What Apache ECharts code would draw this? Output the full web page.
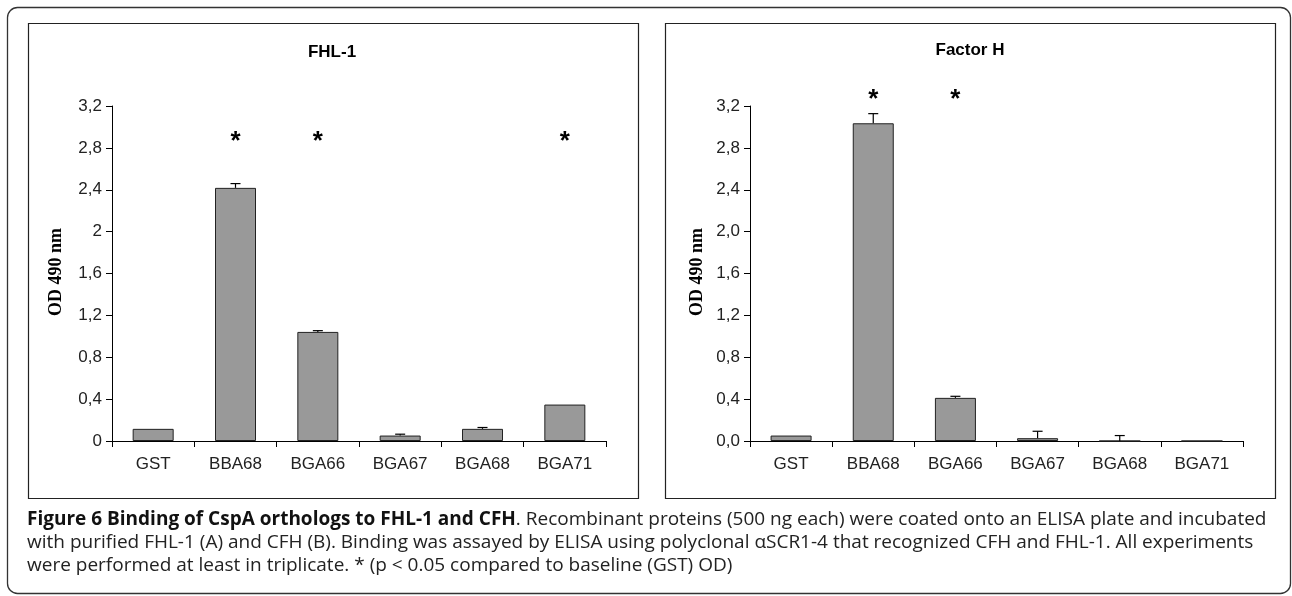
<!DOCTYPE html>
<html>
<head>
<meta charset="utf-8">
<script src="https://cdn.jsdelivr.net/npm/echarts@6/dist/echarts.min.js"></script>
<style>
  html, body { margin: 0; padding: 0; background: #fff; }
  #chart { width: 1292px; height: 596px; }
</style>
</head>
<body>
<div id="chart"></div>
<script>
// ---- data ----
const categories = ['GST', 'BBA68', 'BGA66', 'BGA67', 'BGA68', 'BGA71'];
const yTicks = [0, 0.4, 0.8, 1.2, 1.6, 2.0, 2.4, 2.8, 3.2];

const fhlValues = [0.116, 2.418, 1.042, 0.052, 0.116, 0.348];
const fhlErrors = [0, 0.041, 0.012, 0.013, 0.013, 0];
const fhlStarCats = ['BBA68', 'BGA66', 'BGA71'];
const fhlStarLevel = 2.907;

const fhValues = [0.052, 3.035, 0.412, 0.027, 0, 0];
const fhErrors = [0, 0.092, 0.015, 0.066, 0.052, 0];
const fhStarCats = ['BBA68', 'BGA66'];
const fhStarLevel = 3.31;

const panelTitles = ['FHL-1', 'Factor H'];
const yAxisTitle = 'OD 490 nm';
const captionBold = 'Figure 6 Binding of CspA orthologs to FHL-1 and CFH';
const captionLines = [
  '. Recombinant proteins (500 ng each) were coated onto an ELISA plate and incubated',
  'with purified FHL-1 (A) and CFH (B). Binding was assayed by ELISA using polyclonal \u03b1SCR1-4 that recognized CFH and FHL-1. All experiments',
  'were performed at least in triplicate. * (p < 0.05 compared to baseline (GST) OD)'
];

// ---- helpers ----
const axisFont = 'Liberation Sans, Arial, sans-serif';
function leftFmt(v) { return String(+(+v).toFixed(1)).replace('.', ','); }
function rightFmt(v) { return (+v).toFixed(1).replace('.', ','); }

function makeX(gi) {
  return {
    type: 'category', gridIndex: gi, data: categories,
    axisLine: { lineStyle: { color: '#000', width: 1 } },
    axisTick: { show: true, length: 6, inside: false, lineStyle: { color: '#000' } },
    axisLabel: { margin: 15, color: '#222', fontSize: 17, fontFamily: axisFont }
  };
}
function makeY(gi, fmt) {
  return {
    type: 'value', gridIndex: gi, min: 0, max: 3.2, interval: 0.4,
    splitLine: { show: false },
    axisLine: { show: true, lineStyle: { color: '#000', width: 1 } },
    axisTick: { show: true, length: 6, lineStyle: { color: '#000' } },
    axisLabel: { margin: 10, color: '#222', fontSize: 17, fontFamily: axisFont, formatter: fmt }
  };
}
function barSeries(gi, values) {
  return {
    type: 'bar', xAxisIndex: gi, yAxisIndex: gi, data: values, barWidth: 41,
    itemStyle: { color: '#999999', borderColor: '#222', borderWidth: 1 },
    silent: true, animation: false
  };
}
function errSeries(gi, values, errs) {
  return {
    type: 'custom', xAxisIndex: gi, yAxisIndex: gi,
    data: values.map((v, i) => [i, v, errs[i]]),
    renderItem: function (params, api) {
      const i = api.value(0), v = api.value(1), e = api.value(2);
      if (!e) return null;
      const p0 = api.coord([i, v]);
      const p1 = api.coord([i, v + e]);
      const st = { stroke: '#000', lineWidth: 1.2 };
      return {
        type: 'group', children: [
          { type: 'line', shape: { x1: p0[0], y1: p0[1], x2: p1[0], y2: p1[1] }, style: st },
          { type: 'line', shape: { x1: p1[0] - 5, y1: p1[1], x2: p1[0] + 5, y2: p1[1] }, style: st }
        ]
      };
    },
    silent: true, animation: false, z: 3
  };
}
function starSeries(gi, cats, level) {
  return {
    type: 'custom', xAxisIndex: gi, yAxisIndex: gi, clip: false,
    data: cats.map(c => [categories.indexOf(c), level]),
    renderItem: function (params, api) {
      const p = api.coord([api.value(0), api.value(1)]);
      return {
        type: 'text', x: p[0], y: p[1] + 5,
        style: { text: '*', fill: '#000', font: 'bold 26px Liberation Sans, Arial, sans-serif', textAlign: 'center', textVerticalAlign: 'middle' }
      };
    },
    silent: true, animation: false
  };
}

const chart = echarts.init(document.getElementById('chart'), null, { renderer: 'canvas' });

const capFont = 'Open Sans, sans-serif';
const graphics = [
  { type: 'rect', shape: { x: 7.5, y: 7.5, width: 1283, height: 586, r: 10 }, style: { fill: 'none', stroke: '#333', lineWidth: 1.3 }, silent: true, z: -1 },
  { type: 'rect', shape: { x: 28.5, y: 23.5, width: 610, height: 475 }, style: { fill: 'none', stroke: '#222', lineWidth: 1.2 }, silent: true },
  { type: 'rect', shape: { x: 665.5, y: 23.5, width: 610, height: 475 }, style: { fill: 'none', stroke: '#222', lineWidth: 1.2 }, silent: true },
  { type: 'text', x: 332, y: 52, style: { text: panelTitles[0], font: 'bold 17px Liberation Sans, Arial, sans-serif', fill: '#000', textAlign: 'center', textVerticalAlign: 'middle' } },
  { type: 'text', x: 970, y: 50, style: { text: panelTitles[1], font: 'bold 17px Liberation Sans, Arial, sans-serif', fill: '#000', textAlign: 'center', textVerticalAlign: 'middle' } },
  { type: 'text', x: 56, y: 272, rotation: Math.PI / 2, style: { text: yAxisTitle, font: 'bold 18px Liberation Serif, Times New Roman, serif', fill: '#000', textAlign: 'center', textVerticalAlign: 'middle' } },
  { type: 'text', x: 697, y: 272, rotation: Math.PI / 2, style: { text: yAxisTitle, font: 'bold 18px Liberation Serif, Times New Roman, serif', fill: '#000', textAlign: 'center', textVerticalAlign: 'middle' } },
  {
    type: 'text', x: 27, y: 520,
    style: {
      text: '{b|' + captionBold + '}{r|' + captionLines[0] + '}',
      textVerticalAlign: 'middle',
      rich: {
        b: { font: 'bold 19px ' + capFont, fill: '#111' },
        r: { font: '19px ' + capFont, fill: '#222' }
      }
    }
  },
  { type: 'text', x: 27, y: 543, style: { text: captionLines[1], font: '19px ' + capFont, fill: '#222', textVerticalAlign: 'middle' } },
  { type: 'text', x: 27, y: 566, style: { text: captionLines[2], font: '19px ' + capFont, fill: '#222', textVerticalAlign: 'middle' } }
];

chart.setOption({
  animation: false,
  backgroundColor: '#fff',
  grid: [
    { left: 112, top: 106, width: 494, height: 335 },
    { left: 750, top: 106, width: 493, height: 335 }
  ],
  xAxis: [makeX(0), makeX(1)],
  yAxis: [makeY(0, leftFmt), makeY(1, rightFmt)],
  series: [
    barSeries(0, fhlValues), errSeries(0, fhlValues, fhlErrors), starSeries(0, fhlStarCats, fhlStarLevel),
    barSeries(1, fhValues), errSeries(1, fhValues, fhErrors), starSeries(1, fhStarCats, fhStarLevel)
  ],
  graphic: graphics
});
</script>
</body>
</html>
